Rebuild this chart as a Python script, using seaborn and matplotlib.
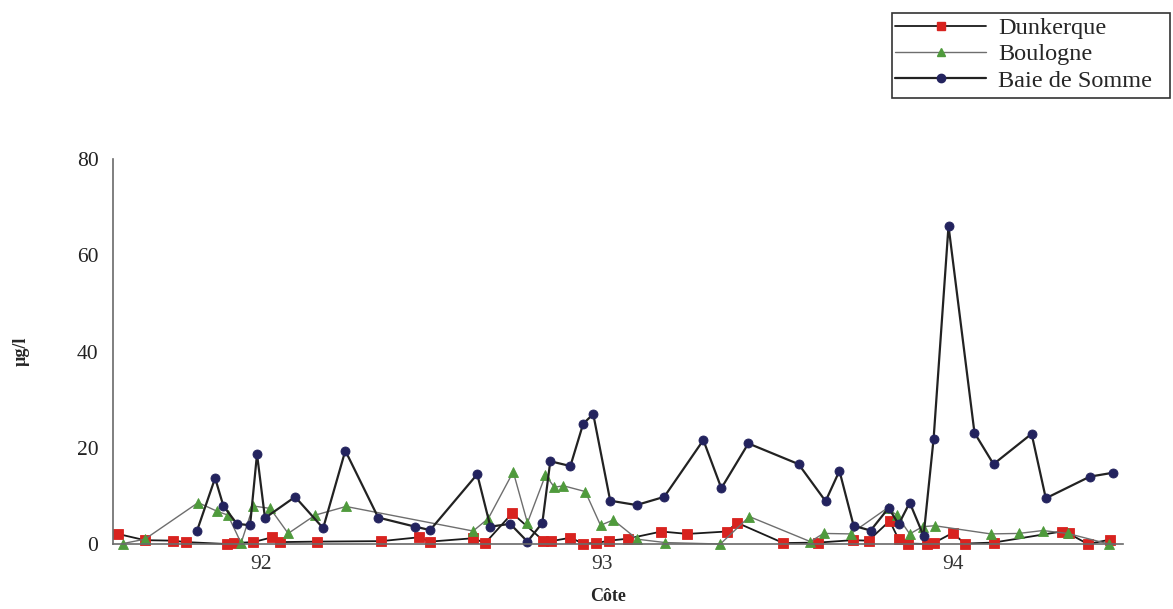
import matplotlib
matplotlib.use("Agg")
import matplotlib.pyplot as plt
import seaborn as sns
from matplotlib.lines import Line2D
from matplotlib.patches import Rectangle

sns.set_theme(style="white")
plt.rcParams["font.family"] = ["Liberation Serif", "DejaVu Serif"]

# Sampling dates (decimal year) and concentrations (µg/l) for each coastal site
dunkerque_x = [91.587, 91.665, 91.746, 91.784, 91.902, 91.923, 91.978, 92.033, 92.056,
               92.163, 92.348, 92.457, 92.489, 92.613, 92.648, 92.726, 92.816, 92.839,
               92.894, 92.931, 92.969, 93.006, 93.059, 93.157, 93.232, 93.345, 93.376,
               93.509, 93.610, 93.709, 93.755, 93.816, 93.842, 93.868, 93.923, 93.943,
               93.998, 94.033, 94.116, 94.313, 94.333, 94.388, 94.452]
dunkerque_y = [2.1, 0.8, 0.7, 0.4, 0.0, 0.2, 0.4, 1.4, 0.4,
               0.5, 0.6, 1.4, 0.5, 1.2, 0.2, 6.4, 0.7, 0.6,
               1.3, 0.1, 0.2, 0.7, 1.1, 2.6, 2.1, 2.6, 4.4,
               0.2, 0.3, 0.8, 0.7, 4.8, 1.0, 0.1, 0.0, 0.2,
               2.3, 0.1, 0.3, 2.6, 2.2, 0.0, 0.9]

boulogne_x = [91.602, 91.665, 91.819, 91.874, 91.905, 91.943, 91.978, 92.027, 92.079,
              92.157, 92.246, 92.613, 92.657, 92.729, 92.770, 92.822, 92.848, 92.874,
              92.937, 92.981, 93.018, 93.087, 93.168, 93.327, 93.411, 93.587, 93.625,
              93.703, 93.810, 93.836, 93.874, 93.911, 93.946, 94.108, 94.189, 94.258,
              94.330, 94.449]
boulogne_y = [0.1, 1.0, 8.6, 6.8, 6.0, 0.2, 7.9, 7.4, 2.2,
              6.0, 7.8, 2.7, 5.3, 15.0, 4.4, 14.3, 11.8, 12.1,
              10.9, 3.9, 5.0, 1.0, 0.3, 0.0, 5.7, 0.5, 2.2,
              2.1, 7.5, 6.0, 2.1, 3.6, 3.8, 2.1, 2.2, 2.8,
              2.2, 0.0]

somme_x = [91.816, 91.868, 91.892, 91.931, 91.969, 91.989, 92.012, 92.099, 92.180,
           92.244, 92.339, 92.446, 92.489, 92.625, 92.663, 92.720, 92.770, 92.813,
           92.836, 92.894, 92.931, 92.960, 93.009, 93.085, 93.165, 93.278, 93.330,
           93.408, 93.553, 93.631, 93.671, 93.712, 93.761, 93.813, 93.842, 93.874,
           93.914, 93.943, 93.986, 94.061, 94.116, 94.226, 94.267, 94.394, 94.460]
somme_y = [2.8, 13.7, 7.9, 4.2, 3.9, 18.7, 5.4, 9.8, 3.3,
           19.4, 5.5, 3.6, 2.9, 14.5, 3.6, 4.2, 0.5, 4.4,
           17.2, 16.2, 25.0, 27.0, 9.0, 8.1, 9.8, 21.6, 11.6,
           20.9, 16.6, 8.9, 15.2, 3.8, 2.8, 7.5, 4.1, 8.6,
           1.7, 21.9, 66.1, 23.1, 16.6, 22.9, 9.5, 14.0, 14.8]

site_names = ["Dunkerque", "Boulogne", "Baie de Somme"]
year_ticks = [92, 92.985, 94]
year_labels = ["92", "93", "94"]
y_ticks = [0, 20, 40, 60, 80]

fig = plt.figure(figsize=(11.73, 6.09), dpi=100)
ax = fig.add_axes([0.0963, 0.1067, 0.8611, 0.6322])

styles = [
    dict(x=dunkerque_x, y=dunkerque_y, line="#1a1a1a", lw=1.3, marker="s",
         face="#d8231f", ms=6.5),
    dict(x=boulogne_x, y=boulogne_y, line="#6e6e6e", lw=1.0, marker="^",
         face="#4f9a3c", ms=6.5),
    dict(x=somme_x, y=somme_y, line="#222222", lw=1.6, marker="o",
         face="#23235e", ms=6.5),
]

handles = []
for name, st in zip(site_names, styles):
    sns.lineplot(x=st["x"], y=st["y"], ax=ax, sort=False, estimator=None,
                 color=st["line"], linewidth=st["lw"], marker=st["marker"],
                 markersize=st["ms"], markerfacecolor=st["face"],
                 markeredgecolor=st["face"], markeredgewidth=0.6, clip_on=False)
    handles.append(Line2D([], [], color=st["line"], linewidth=st["lw"],
                          marker=st["marker"], markersize=st["ms"] - 0.5,
                          markerfacecolor=st["face"], markeredgecolor=st["face"]))

ax.set_xlim(91.573, 94.49)
ax.set_ylim(0, 80)
ax.set_yticks(y_ticks)
ax.set_xticks(year_ticks)
ax.set_xticklabels(year_labels)
ax.set_xticks([91.573, 92.544, 94.49], minor=True)

for side in ("top", "right"):
    ax.spines[side].set_visible(False)
for side in ("left", "bottom"):
    ax.spines[side].set_color("#6a6a6a")
    ax.spines[side].set_linewidth(1.2)

ax.tick_params(axis="y", which="major", direction="inout", length=9, width=1,
               color="#6a6a6a", labelsize=15.5, labelcolor="#222222", pad=6)
ax.tick_params(axis="x", which="major", length=0, labelsize=15.5,
               labelcolor="#333333", pad=8)
ax.tick_params(axis="x", which="minor", direction="inout", length=9, width=1,
               color="#6a6a6a")

ax.set_xlabel("Côte", fontsize=13, fontweight="bold", labelpad=6)
ax.xaxis.set_label_coords(0.49, -0.115)
ax.set_ylabel("µg/l", fontsize=13, fontweight="bold", labelpad=34)

# Legend entries without their own frame; the box is drawn separately
leg = fig.legend(handles, site_names, loc="upper left",
                 bbox_to_anchor=(0.763, 0.972), frameon=False,
                 fontsize=17.5, handlelength=3.75, handletextpad=0.5,
                 labelspacing=0.18, borderpad=0.0, borderaxespad=0)
fig.patches.append(Rectangle((892 / 1173, 1 - 98 / 609), 278 / 1173, 85 / 609,
                             transform=fig.transFigure, fill=False,
                             edgecolor="#333333", linewidth=1.2))

fig.savefig("out.png", dpi=100)
